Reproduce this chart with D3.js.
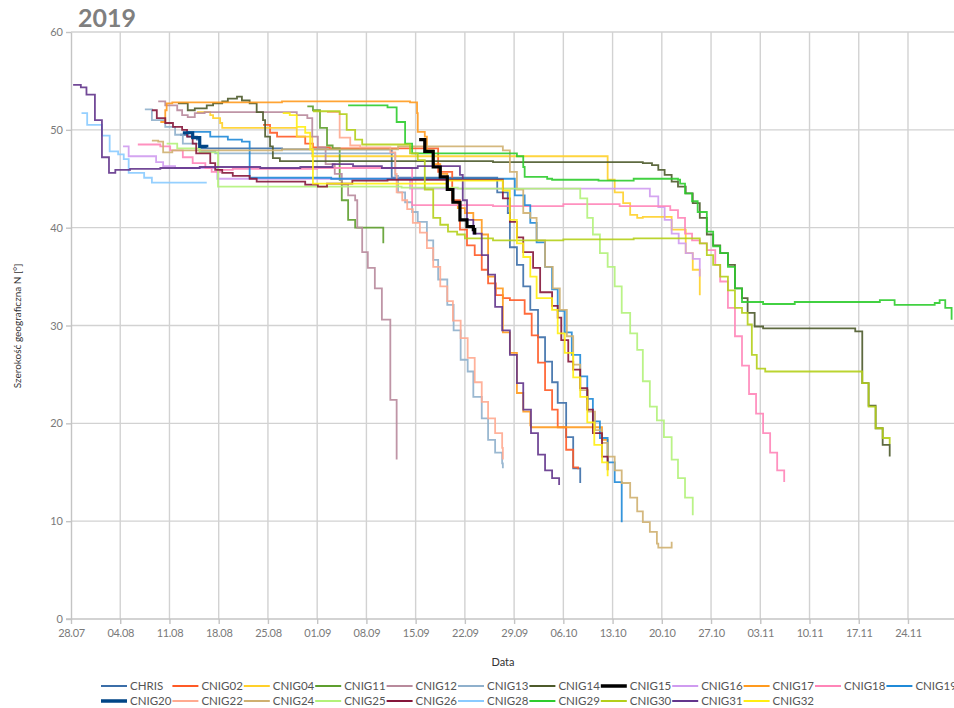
<!DOCTYPE html>
<html><head><meta charset="utf-8">
<script src="https://cdn.jsdelivr.net/npm/d3@7"></script>
<style>
html,body{margin:0;padding:0;background:#fff;}
svg{display:block;font-family:Lato,"Open Sans",sans-serif;}
</style></head>
<body><svg id="chart" width="954" height="708"></svg>
<script>
// ---- DATA (day offset from 28.07.2019, latitude °N) ----
const startDate = "28.07.2019";
const xTickLabels = ["28.07","04.08","11.08","18.08","25.08","01.09","08.09","15.09","22.09","29.09","06.10","13.10","20.10","27.10","03.11","10.11","17.11","24.11"];
const yTicks = [0,10,20,30,40,50,60];
const seriesNames = ["CHRIS","CNIG02","CNIG04","CNIG11","CNIG12","CNIG13","CNIG14","CNIG15","CNIG16","CNIG17","CNIG18","CNIG19","CNIG20","CNIG22","CNIG24","CNIG25","CNIG26","CNIG28","CNIG29","CNIG30","CNIG31","CNIG32"];
const seriesColors = ["#3b6ea8","#ff5a26","#ffd02a","#5e9e2e","#b88a9c","#8fb0cc","#4d5a2b","#000000","#cf9bf0","#ff9a1e","#ff85b8","#1f8ad8","#004586","#ffaa90","#cfb070","#b2f27a","#85163a","#8acbff","#2ecc2e","#b4cf1a","#63358c","#ffee11"];

const CHRIS = [[15.5,49.5],[16.6,49.3],[17.9,49.0],[18.3,48.1],[30,48.0],[45.6,45.1],[60.6,43.6],[62.1,41.5],[62.4,38.0],[63.4,36.2],[64.3,34.0],[65.3,31.6],[66.4,28.8],[67.4,26.3],[68.4,24.2],[69.2,22.1],[70.4,18.6],[71.4,15.4],[72.4,13.9]];
const CNIG02 = [[27.3,50.5],[28.3,49.7],[29.3,49.3],[33.3,48.6],[34.4,48.2],[36.8,48.1],[52.2,45.7],[54.2,42.8],[55.3,39.8],[56.3,38.2],[57.4,37.2],[58.4,35.7],[59.3,34.3],[60.4,33.1],[61.4,32.8],[62.4,32.6],[64.5,31.2],[65.5,29.0],[66.4,26.2],[67.4,23.4],[68.4,21.4],[69.2,19.6],[70.4,17.3],[71.4,15.5],[72.1,15.3]];
const CNIG04 = [[17.9,51.8],[19.8,51.5],[20.2,51.2],[21.2,50.7],[21.5,50.2],[32.1,49.3],[34.3,47.3],[76.3,44.9],[77.3,43.6],[78.5,42.5],[79.5,41.3],[80.5,41.0],[81.3,41.1],[85.4,39.8],[87.4,37.4],[88.4,35.7],[89.4,33.1]];
const CNIG11 = [[33.6,52.4],[34.4,52.0],[35.4,50.2],[36.4,48.4],[37.2,48.1],[38.2,44.9],[38.5,42.8],[39.4,40.8],[40.4,40.0],[44.4,38.4]];
const CNIG12 = [[12.4,52.9],[13.4,52.5],[15.1,52.0],[15.8,51.5],[16.6,51.3],[17.6,51.7],[19.0,51.8],[32.1,51.5],[33.6,51.2],[34.3,49.3],[35.1,48.2],[36.2,46.5],[37.5,45.5],[38.5,44.4],[39.4,43.3],[40.4,42.8],[40.7,40.0],[41.4,37.5],[42.2,35.9],[43.2,33.8],[44.2,30.6],[45.4,22.4],[46.3,16.3]];
const CNIG13 = [[10.5,52.1],[11.5,51.0],[13.4,50.3],[14.8,49.5],[15.9,48.6],[18.3,47.8],[20.5,47.6],[46.1,45.3],[46.5,43.6],[47.5,42.6],[48.5,41.6],[49.3,40.6],[50.6,38.7],[51.5,36.7],[52.2,34.7],[53.5,32.1],[54.4,29.5],[55.4,26.5],[56.4,25.3],[57.2,22.7],[58.4,20.5],[59.3,18.3],[60.3,17.0],[61.3,15.9],[61.4,15.4]];
const CNIG14 = [[15.2,52.7],[16.6,52.0],[17.6,52.2],[19.3,52.5],[20.2,52.7],[21.5,52.9],[22.3,53.2],[23.6,53.4],[24.3,53.0],[25.4,52.7],[26.4,51.8],[27.3,51.0],[27.6,49.3],[28.3,48.3],[28.7,47.1],[29.7,46.8],[60,46.7],[81.3,46.6],[82.6,46.4],[83.5,45.9],[84.4,45.4],[85.4,44.7],[86.3,44.2],[87.4,43.5],[88.4,42.5],[89.4,41.0],[90.4,39.3],[91.3,38.2],[92.3,37.4],[93.4,36.2],[94.4,33.8],[95.4,32.8],[96.2,31.3],[97.2,29.9],[98.4,29.7],[110.3,29.7],[111.5,29.4],[112.5,24.1],[113.4,21.8],[114.4,19.5],[115.4,17.8],[116.4,16.6]];
const CNIG15 = [[49.5,49.0],[50.3,47.8],[51.5,46.2],[52.5,45.2],[53.5,43.9],[54.3,42.6],[55.3,40.8],[56.3,40.1],[57.2,39.8],[57.4,39.3]];
const CNIG16 = [[7.4,48.3],[8.2,47.3],[12.1,46.7],[13.1,46.3],[14.8,46.1],[20.8,45.0],[48.2,44.0],[82.3,43.2],[83.5,42.1],[84.4,40.8],[85.4,39.4],[86.4,38.4],[87.4,37.4],[88.4,36.8],[89.4,35.0]];
const CNIG17 = [[12.7,50.8],[13.4,52.0],[13.6,52.7],[14.4,52.8],[30,52.9],[48.2,52.8],[49.2,51.7],[49.3,49.8],[50.3,49.3],[50.6,47.9],[51.5,46.5],[52.5,45.5],[53.5,44.0],[54.3,42.6],[55.0,42.0],[56.0,41.5],[57.2,40.8],[58.4,39.3],[59.3,35.0],[60.3,33.8],[61.4,29.3],[62.4,27.2],[63.4,23.1],[64.3,21.2],[65.3,19.8],[65.4,19.6],[75.5,18.3],[76.3,16.0]];
const CNIG18 = [[9.5,48.5],[12.7,48.3],[14.1,47.9],[15.9,47.2],[17.3,46.6],[19.1,46.1],[20.0,45.7],[21.2,45.9],[23.0,46.0],[35.0,46.1],[48.5,42.3],[60,42.2],[70,42.4],[78,42.2],[85.2,41.8],[86.3,41.0],[87.3,39.4],[88.3,38.7],[89.4,38.4],[90.4,37.7],[91.6,36.2],[92.3,34.5],[93.4,31.8],[94.4,28.9],[95.4,25.9],[96.4,23.0],[97.4,21.0],[98.4,19.0],[99.4,17.0],[100.4,15.2],[101.4,14.0]];
const CNIG19 = [[16.6,49.8],[19.8,49.3],[22.3,49.0],[24.3,48.8],[25.4,45.1],[37.0,45.0],[63.1,43.3],[64.5,42.3],[65.3,40.5],[66.2,38.5],[67.4,36.0],[68.4,33.7],[69.2,31.5],[70.2,29.3],[71.2,27.0],[72.4,24.8],[73.4,22.5],[74.2,20.2],[75.2,18.5],[76.3,16.0],[77.3,14.0],[78.3,9.9]];
const CNIG20 = [[15.9,49.7],[17.3,49.2],[18.3,48.3],[19.3,48.2]];
const CNIG22 = [[36.4,51.8],[38.2,49.2],[39.7,48.4],[41.1,48.2],[45.4,47.7],[46.1,45.5],[46.3,43.6],[47.1,42.8],[47.8,41.9],[48.6,40.5],[49.6,39.5],[50.6,37.9],[51.5,36.0],[52.5,34.0],[53.5,32.5],[54.3,30.5],[55.4,28.7],[56.4,26.7],[57.4,24.2],[58.4,22.2],[59.3,20.5],[60.3,19.0],[61.3,17.5],[61.4,16.3]];
const CNIG24 = [[11.5,48.9],[12.4,48.8],[13.1,47.7],[14.4,47.9],[30,48.0],[46.5,48.3],[61.4,47.9],[62.4,45.7],[63.4,43.9],[64.3,41.5],[65.3,41.0],[66.2,38.7],[67.4,36.0],[68.5,33.8],[69.5,31.6],[70.5,28.9],[71.4,26.0],[72.4,23.4],[73.5,21.2],[74.5,19.3],[75.5,18.0],[76.3,16.6],[77.3,15.2],[78.3,13.9],[79.5,12.4],[80.5,11.0],[81.3,9.9],[82.3,8.9],[83.3,7.7],[83.5,7.3],[85.4,7.9]];
const CNIG25 = [[13.6,48.6],[15.1,48.1],[18.3,47.7],[20.9,44.2],[47.0,44.1],[55,44.0],[72.4,43.0],[73.4,41.0],[74.2,39.3],[75.2,37.4],[76.3,36.0],[77.3,34.0],[78.3,31.3],[79.5,29.2],[80.5,27.5],[81.3,24.3],[82.3,21.7],[83.3,20.3],[84.3,18.6],[85.4,16.3],[86.3,14.4],[87.3,12.4],[88.4,10.6]];
const CNIG26 = [[11.5,52.0],[12.2,51.2],[13.4,50.7],[14.5,50.3],[15.8,50.0],[16.5,49.3],[17.3,48.6],[17.8,47.6],[19.8,46.6],[20.5,45.9],[21.5,45.6],[23.0,45.3],[25.4,45.0],[26.4,44.7],[33.3,44.4],[35.1,44.2],[36.4,44.5],[40.0,44.8],[45.0,44.9],[61.4,43.0],[62.4,40.6],[63.4,39.0],[64.3,37.5],[65.7,35.9],[66.7,33.4],[68.4,32.0],[69.2,30.8],[69.7,28.5],[70.7,26.3],[71.4,25.5],[72.4,23.6],[73.4,21.4],[74.2,19.0],[75.5,16.6],[76.3,15.2]];
const CNIG28 = [[1.5,51.7],[2.3,50.5],[4.4,49.4],[5.5,47.8],[6.7,47.5],[7.5,47.0],[8.2,45.6],[10.4,45.1],[11.5,44.6],[19.3,44.6]];
const CNIG29 = [[39.4,52.5],[45.0,52.3],[46.3,50.8],[47.5,48.6],[48.5,47.6],[63.4,47.3],[64.3,46.2],[64.5,45.2],[67.7,45.0],[68.4,44.9],[75,44.8],[80,45.0],[86.3,44.9],[86.6,44.5],[87.3,43.5],[88.3,42.7],[89.1,41.6],[90.4,39.6],[91.3,38.1],[92.3,37.4],[93.4,36.0],[94.4,33.8],[95.4,32.4],[98.4,32.2],[102.9,32.4],[115.0,32.6],[117.1,32.1],[122.8,32.3],[123.5,32.6],[124.3,31.8],[125.2,30.6]];
const CNIG30 = [[34.4,51.9],[38.2,51.6],[39.2,50.0],[40.4,49.0],[41.4,48.5],[48.2,47.6],[49.3,46.9],[50.3,43.9],[51.5,41.0],[52.5,40.3],[53.6,39.6],[54.9,39.3],[56.0,38.9],[60,38.7],[70,38.8],[80,38.9],[89.4,38.4],[90.4,37.2],[91.3,36.2],[92.3,35.0],[93.4,33.6],[94.4,31.8],[95.4,31.3],[96.2,30.1],[96.8,27.0],[97.5,25.6],[98.7,25.3],[112.5,24.1],[113.4,21.7],[114.4,19.5],[115.4,18.5],[116.4,17.9]];
const CNIG31 = [[0.3,54.6],[1.4,54.35],[2.2,53.6],[3.4,51.0],[4.4,47.2],[5.4,45.6],[6.3,45.9],[8.4,46.0],[12.7,46.1],[18.3,46.2],[26.9,46.1],[32.6,46.2],[37.2,46.5],[40.1,46.3],[44.2,46.1],[49.3,46.3],[55.3,45.4],[55.7,42.8],[56.3,40.8],[57.2,39.4],[58.4,37.2],[59.3,35.2],[60.3,31.9],[61.3,29.5],[62.4,27.0],[63.4,24.1],[64.3,21.4],[65.4,19.0],[66.4,16.8],[67.4,15.2],[68.4,14.4],[69.4,13.7]];
const CNIG32 = [[30.1,51.7],[31.1,51.5],[32.1,50.3],[33.3,49.7],[34.0,48.0],[34.4,44.5],[53.5,44.8],[61.4,43.8],[62.4,40.8],[63.4,38.4],[64.3,37.0],[65.3,35.0],[66.2,32.8],[68.4,31.6],[69.2,29.2],[70.2,27.2],[71.4,24.7],[72.4,22.7],[73.4,20.1],[74.4,17.8],[75.5,16.0],[76.3,14.6]];

const seriesData = {CHRIS,CNIG02,CNIG04,CNIG11,CNIG12,CNIG13,CNIG14,CNIG15,CNIG16,CNIG17,CNIG18,CNIG19,CNIG20,CNIG22,CNIG24,CNIG25,CNIG26,CNIG28,CNIG29,CNIG30,CNIG31,CNIG32};
const thickSeries = ["CNIG15","CNIG20"];

// ---- CHART ----
const svg = d3.select("#chart");
const parse = d3.utcParse("%d.%m.%Y");
const t0 = parse(startDate);
const toDate = d => new Date(t0.getTime() + d * 864e5);
const L = 71, R = 953, T = 32, B = 619;
const x = d3.scaleUtc().domain([t0, toDate(125.4)]).range([L, R]);
const y = d3.scaleLinear().domain([0, 60]).range([B, T]);
const tickDates = xTickLabels.map(s => parse(s + ".2019"));

// grid
const grid = svg.append("g").attr("stroke", "#d2d2d2").attr("stroke-width", 1.4);
grid.selectAll("line.v").data(tickDates.slice(1)).join("line")
  .attr("x1", d => x(d)).attr("x2", d => x(d)).attr("y1", T).attr("y2", B);
grid.selectAll("line.h").data(yTicks.slice(1)).join("line")
  .attr("x1", L).attr("x2", 954).attr("y1", d => y(d)).attr("y2", d => y(d));

// axes
const xAxis = svg.append("g").attr("transform", `translate(0,${B})`)
  .call(d3.axisBottom(x).tickValues(tickDates).tickFormat(d3.utcFormat("%d.%m")).tickSize(5).tickSizeOuter(0));
xAxis.select(".domain").attr("stroke", "#c4c4c4").attr("stroke-width", 1.4).attr("d", `M${L - 5},0H954`);
xAxis.selectAll(".tick line").attr("stroke", "#c4c4c4").attr("stroke-width", 1.4);
xAxis.selectAll(".tick text").attr("fill", "#7a7a7a").attr("font-size", 11).attr("dy", "0.95em")
  .attr("font-family", "Lato, sans-serif").attr("letter-spacing", "-0.3px");

const yAxis = svg.append("g").attr("transform", `translate(${L},0)`)
  .call(d3.axisLeft(y).tickValues(yTicks).tickSize(5).tickSizeOuter(0));
yAxis.select(".domain").attr("stroke", "#c4c4c4").attr("stroke-width", 1.4);
yAxis.selectAll(".tick line").attr("stroke", "#c4c4c4").attr("stroke-width", 1.4);
yAxis.selectAll(".tick text").attr("fill", "#7a7a7a").attr("font-size", 11).attr("x", -8)
  .attr("font-family", "Lato, sans-serif");

// lines
const line = d3.line().x(d => x(toDate(d[0]))).y(d => y(d[1])).curve(d3.curveStepAfter);
const lines = svg.append("g").attr("fill", "none").attr("stroke-linejoin", "miter");
seriesNames.forEach((name, i) => {
  if (thickSeries.includes(name)) return;
  lines.append("path").datum(seriesData[name]).attr("d", line)
    .attr("stroke", seriesColors[i]).attr("stroke-width", 1.8).attr("stroke-opacity", 0.9);
});
seriesNames.forEach((name, i) => {
  if (!thickSeries.includes(name)) return;
  lines.append("path").datum(seriesData[name]).attr("d", line)
    .attr("stroke", seriesColors[i]).attr("stroke-width", 3.2);
});

// title
svg.append("text").attr("x", 78).attr("y", 27).text("2019")
  .attr("font-family", "Lato, sans-serif").attr("font-weight", 700).attr("font-size", 25).attr("fill", "#7f7f7f");

// axis titles
svg.append("text").attr("x", 503).attr("y", 666).attr("text-anchor", "middle").text("Data")
  .attr("font-size", 11).attr("fill", "#333").attr("font-family", "Lato, sans-serif");
svg.append("text").attr("transform", "translate(21,326) rotate(-90)").attr("text-anchor", "middle")
  .text("Szerokość geograficzna N [°]").attr("font-size", 10).attr("fill", "#333").attr("font-family", "Lato, sans-serif");

// legend
const leg = svg.append("g");
seriesNames.forEach((name, i) => {
  const row = i < 12 ? 0 : 1, col = i < 12 ? i : i - 12;
  const lx = 101 + col * 71.4, ly = row === 0 ? 686 : 701;
  leg.append("line").attr("x1", lx).attr("x2", lx + 26).attr("y1", ly).attr("y2", ly)
    .attr("stroke", seriesColors[i]).attr("stroke-width", thickSeries.includes(name) ? 3.5 : 2);
  leg.append("text").attr("x", lx + 29).attr("y", ly).attr("dy", "0.35em").text(name)
    .attr("font-size", 11.5).attr("fill", "#555").attr("font-family", "Lato, sans-serif");
});
</script></body></html>
